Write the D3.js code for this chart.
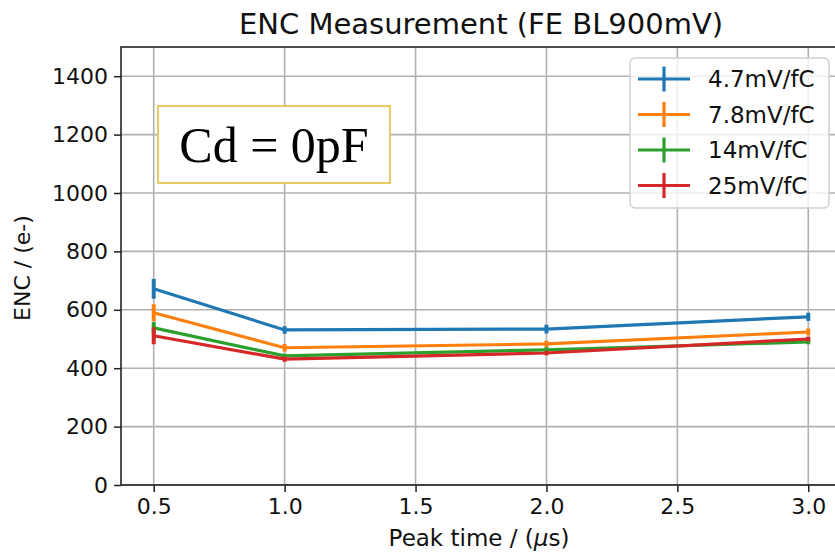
<html><head>
<script src="https://cdnjs.cloudflare.com/ajax/libs/d3/7.8.5/d3.min.js"></script>
<style>
  body { margin: 0; background: #fff; }
  svg { display: block; font-family: "DejaVu Sans", sans-serif; }
</style>
</head>
<body>
<div id="chart"></div>
<script>
// peak times (us)
const peakTimes = [0.5, 1.0, 2.0, 3.0];
const gainLabels = ["4.7mV/fC", "7.8mV/fC", "14mV/fC", "25mV/fC"];
const gainColors = ["#1f77b4", "#ff7f0e", "#2ca02c", "#d62728"];
// ENC values (e-) per gain
const enc47 = [672, 531, 534, 576];
const enc78 = [590, 470, 483, 524];
const enc14 = [538, 442, 463, 490];
const enc25 = [511, 431, 452, 500];
// error bar half widths
const err47 = [34, 13, 15, 14];
const err78 = [29, 13, 11, 12];
const err14 = [20, 8, 9, 8];
const err25 = [29, 9, 8, 8];
const xTicks = [0.5, 1.0, 1.5, 2.0, 2.5, 3.0];
const yTicks = [0, 200, 400, 600, 800, 1000, 1200, 1400];

const series = [enc47, enc78, enc14, enc25].map((vals, i) => ({
  label: gainLabels[i],
  color: gainColors[i],
  pts: vals.map((v, j) => ({ t: peakTimes[j], v: v, e: [err47, err78, err14, err25][i][j] }))
}));

const W = 835, H = 553;
const pLeft = 121, pRight = 841, pTop = 47, pBottom = 485;

const x = d3.scaleLinear().domain([0.375, 3.125]).range([pLeft, pRight]);
const y = d3.scaleLinear().domain([0, 1500]).range([pBottom, pTop]);

const svg = d3.select("#chart").append("svg")
  .attr("width", W).attr("height", H);

// grid
svg.append("g").selectAll("line").data(xTicks).enter().append("line")
  .attr("x1", d => x(d)).attr("x2", d => x(d))
  .attr("y1", pTop).attr("y2", pBottom)
  .attr("stroke", "#b0b0b0").attr("stroke-width", 1.6);
svg.append("g").selectAll("line").data(yTicks).enter().append("line")
  .attr("x1", pLeft).attr("x2", pRight)
  .attr("y1", d => y(d)).attr("y2", d => y(d))
  .attr("stroke", "#b0b0b0").attr("stroke-width", 1.6);

// axes
const xAxis = svg.append("g")
  .attr("transform", `translate(0,${pBottom})`)
  .call(d3.axisBottom(x).tickValues(xTicks).tickFormat(d3.format(".1f")).tickSizeOuter(0).tickSize(7).tickPadding(6));
const yAxis = svg.append("g")
  .attr("transform", `translate(${pLeft},0)`)
  .call(d3.axisLeft(y).tickValues(yTicks).tickFormat(d3.format("d")).tickSizeOuter(0).tickSize(7).tickPadding(6));
[xAxis, yAxis].forEach(a => {
  a.select(".domain").remove();
  a.selectAll("line").attr("stroke", "#222").attr("stroke-width", 1.5);
  a.selectAll("text").attr("font-size", 22).attr("fill", "#111")
    .attr("font-family", "DejaVu Sans, sans-serif");
});

// frame
svg.append("rect")
  .attr("x", pLeft).attr("y", pTop)
  .attr("width", pRight - pLeft).attr("height", pBottom - pTop)
  .attr("fill", "none").attr("stroke", "#222").attr("stroke-width", 1.6);

// lines
const line = d3.line().x(d => x(d.t)).y(d => y(d.v));
series.forEach(s => {
  const g = svg.append("g");
  g.append("path").datum(s.pts)
    .attr("d", line).attr("fill", "none")
    .attr("stroke", s.color).attr("stroke-width", 3.2);
  g.selectAll("line").data(s.pts).enter().append("line")
    .attr("x1", d => x(d.t)).attr("x2", d => x(d.t))
    .attr("y1", d => y(d.v - d.e)).attr("y2", d => y(d.v + d.e))
    .attr("stroke", s.color).attr("stroke-width", 4);
});

// title and labels
svg.append("text").attr("x", 481).attr("y", 34)
  .attr("text-anchor", "middle").attr("font-size", 29).attr("fill", "#111")
  .text("ENC Measurement (FE BL900mV)");
const xl = svg.append("text").attr("x", 479).attr("y", 546)
  .attr("text-anchor", "middle").attr("font-size", 23).attr("fill", "#111");
xl.append("tspan").text("Peak time / (");
xl.append("tspan").attr("font-style", "italic").text("μ");
xl.append("tspan").text("s)");
svg.append("text")
  .attr("transform", "translate(30,268) rotate(-90)")
  .attr("text-anchor", "middle").attr("font-size", 22).attr("fill", "#111")
  .text("ENC / (e-)");

// annotation box
svg.append("rect").attr("x", 158).attr("y", 106).attr("width", 232).attr("height", 77)
  .attr("fill", "#fff").attr("stroke", "#e6be3c").attr("stroke-width", 1.6);
svg.append("text").attr("x", 274).attr("y", 162)
  .attr("text-anchor", "middle").attr("font-size", 50)
  .attr("font-family", "Liberation Serif, serif").attr("fill", "#000")
  .text("Cd = 0pF");

// legend
const lg = svg.append("g");
lg.append("rect").attr("x", 630).attr("y", 58).attr("width", 199).attr("height", 150)
  .attr("rx", 5).attr("fill", "rgba(255,255,255,0.8)")
  .attr("stroke", "#d0d0d0").attr("stroke-width", 1.5);
series.forEach((s, i) => {
  const cy = 79 + i * 35.5;
  lg.append("line").attr("x1", 638).attr("x2", 690).attr("y1", cy).attr("y2", cy)
    .attr("stroke", s.color).attr("stroke-width", 3.2);
  lg.append("line").attr("x1", 664).attr("x2", 664).attr("y1", cy - 12.5).attr("y2", cy + 12.5)
    .attr("stroke", s.color).attr("stroke-width", 3.2);
  lg.append("text").attr("x", 708).attr("y", cy + 8)
    .attr("font-size", 23).attr("fill", "#111")
    .text(s.label);
});
</script>
</body></html>
